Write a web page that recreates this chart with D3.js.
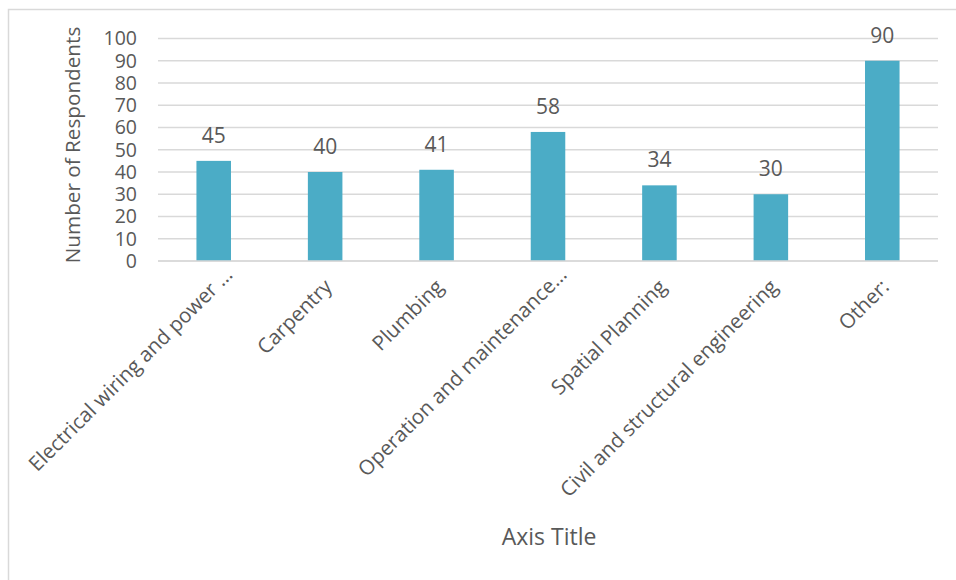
<!DOCTYPE html>
<html>
<head>
<meta charset="utf-8">
<script src="https://cdn.jsdelivr.net/npm/d3@7"></script>
<style>
  body { margin: 0; background: #fff; }
  text { font-family: "Open Sans", sans-serif; fill: #595959; }
</style>
</head>
<body>
<script>
// chart data
var categories = ["Electrical wiring and power …", "Carpentry", "Plumbing",
    "Operation and maintenance…", "Spatial Planning",
    "Civil and structural engineering", "Other:"];
var values = [45, 40, 41, 58, 34, 30, 90];
var yTicks = [0, 10, 20, 30, 40, 50, 60, 70, 80, 90, 100];

var width = 956, height = 580;
var plot = {left: 158, right: 938, top: 38.5, bottom: 261};

var svg = d3.select("body").append("svg")
    .attr("width", width)
    .attr("height", height);

// outer chart border (cut off on right and bottom like the picture)
svg.append("rect")
    .attr("x", 8.5).attr("y", 9.5)
    .attr("width", 960).attr("height", 600)
    .attr("fill", "none")
    .attr("stroke", "#d9d9d9")
    .attr("stroke-width", 1.5);

var x = d3.scaleBand()
    .domain(categories)
    .range([plot.left, plot.right])
    .paddingInner(0.69)
    .paddingOuter(0.345);

var y = d3.scaleLinear()
    .domain([0, 100])
    .range([plot.bottom, plot.top]);

// gridlines
svg.append("g")
    .selectAll("line")
    .data(yTicks)
    .enter().append("line")
    .attr("x1", plot.left).attr("x2", plot.right)
    .attr("y1", function(d) { return y(d); })
    .attr("y2", function(d) { return y(d); })
    .attr("stroke", "#d9d9d9")
    .attr("stroke-width", 1.3);

// y axis labels
var yAxis = svg.append("g")
    .attr("transform", "translate(" + (plot.left - 21) + ",0)")
    .call(d3.axisLeft(y).tickValues(yTicks).tickSize(0).tickPadding(0));
yAxis.select(".domain").remove();
yAxis.selectAll("text")
    .attr("fill", "#595959")
    .style("font-family", "Open Sans")
    .style("font-size", "19.5px");

// bars
svg.append("g")
    .selectAll("rect")
    .data(values)
    .enter().append("rect")
    .attr("x", function(d, i) { return x(categories[i]); })
    .attr("y", function(d) { return y(d); })
    .attr("width", x.bandwidth())
    .attr("height", function(d) { return y(0) - y(d); })
    .attr("fill", "#4bacc6");

// data labels
svg.append("g")
    .selectAll("text")
    .data(values)
    .enter().append("text")
    .attr("x", function(d, i) { return x(categories[i]) + x.bandwidth() / 2; })
    .attr("y", function(d) { return y(d) - 18; })
    .attr("text-anchor", "middle")
    .style("font-size", "21px")
    .text(function(d) { return d; });

// x axis baseline
svg.append("line")
    .attr("x1", plot.left).attr("x2", plot.right)
    .attr("y1", y(0)).attr("y2", y(0))
    .attr("stroke", "#d9d9d9")
    .attr("stroke-width", 1.3);

// category labels, rotated; truncated ones sit a bit further along
svg.append("g")
    .selectAll("text")
    .data(categories)
    .enter().append("text")
    .attr("transform", function(d) {
        var cx = x(d) + x.bandwidth() / 2 + 3;
        return "translate(" + cx + "," + (plot.bottom + 22) + ") rotate(-45)";
    })
    .attr("text-anchor", "end")
    .attr("dy", "0.35em")
    .attr("dx", function(d) { return d.slice(-1) === "…" ? 17 : 0; })
    .style("font-size", "20.5px")
    .text(function(d) { return d; });

// axis titles
svg.append("text")
    .attr("x", 549).attr("y", 545)
    .attr("text-anchor", "middle")
    .style("font-size", "23px")
    .text("Axis Title");

svg.append("text")
    .attr("transform", "translate(80," + 145 + ") rotate(-90)")
    .attr("text-anchor", "middle")
    .style("font-size", "20.7px")
    .text("Number of Respondents");
</script>
</body>
</html>
